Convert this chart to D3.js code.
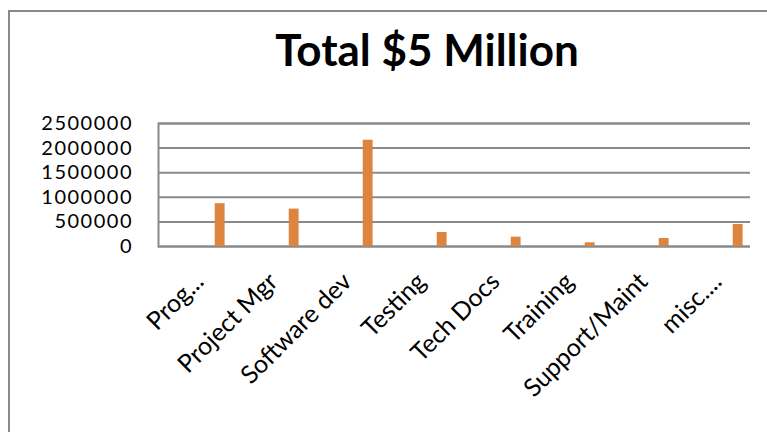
<!DOCTYPE html>
<html>
<head>
<meta charset="utf-8">
<script src="https://cdn.jsdelivr.net/npm/d3@7"></script>
<style>
  body { margin: 0; background: #fff; }
  svg { display: block; font-family: Lato, "Open Sans", sans-serif; }
</style>
</head>
<body>
<svg id="chart" width="767" height="432"></svg>
<script>
const categories = ["Prog...", "Project Mgr", "Software dev", "Testing", "Tech Docs", "Training", "Support/Maint", "misc...."];
const amounts = [870000, 760000, 2160000, 285000, 190000, 75000, 163000, 448000];
const yTicks = [0, 500000, 1000000, 1500000, 2000000, 2500000];
const title = "Total $5 Million";

const svg = d3.select("#chart");
const width = 767, height = 432;
const margin = { top: 123, right: 17, bottom: 186, left: 158 };

// outer chart frame (runs off the right and bottom edges)
svg.append("rect")
  .attr("x", 9).attr("y", 11)
  .attr("width", width).attr("height", height)
  .attr("fill", "#fff")
  .attr("stroke", "#8a8a8a")
  .attr("stroke-width", 2);

svg.append("text")
  .attr("x", 427).attr("y", 66)
  .attr("text-anchor", "middle")
  .attr("font-size", 44)
  .attr("font-weight", "bold")
  .text(title);

const x = d3.scaleBand()
  .domain(categories)
  .range([margin.left, width - margin.right]);

// six series slots per category; the orange series sits in the last one
const slot = d3.scaleBand()
  .domain(d3.range(6))
  .range([0, x.bandwidth()])
  .paddingOuter(0.75);

const y = d3.scaleLinear()
  .domain([0, 2500000])
  .range([height - margin.bottom, margin.top]);

// gridlines + y labels
const yAxis = d3.axisLeft(y)
  .tickValues(yTicks)
  .tickFormat(d3.format("d"))
  .tickSize(-(width - margin.left - margin.right))
  .tickPadding(25);

const gy = svg.append("g")
  .attr("transform", `translate(${margin.left},0)`)
  .call(yAxis);
gy.select(".domain").attr("stroke", "#8a8a8a").attr("stroke-width", 2);
gy.selectAll(".tick line").attr("stroke", "#8a8a8a").attr("stroke-width", 2);
gy.selectAll(".tick text")
  .attr("fill", "#000")
  .attr("font-size", 20)
  .attr("letter-spacing", 1.5)
  .attr("font-family", "Lato, sans-serif");

// bars
svg.append("g")
  .selectAll("rect")
  .data(categories)
  .join("rect")
  .attr("x", d => x(d) + slot(5))
  .attr("width", slot.bandwidth())
  .attr("y", (d, i) => y(amounts[i]))
  .attr("height", (d, i) => y(0) - y(amounts[i]))
  .attr("fill", "#dd843e");

// rotated category labels
svg.append("g")
  .selectAll("text")
  .data(categories)
  .join("text")
  .attr("transform", d => `translate(${x(d) + x.bandwidth() / 2 + 4},${y(0) + 31}) rotate(-45)`)
  .attr("text-anchor", "end")
  .attr("dy", "0.35em")
  .attr("font-size", 25)
  .text(d => d);
</script>
</body>
</html>
